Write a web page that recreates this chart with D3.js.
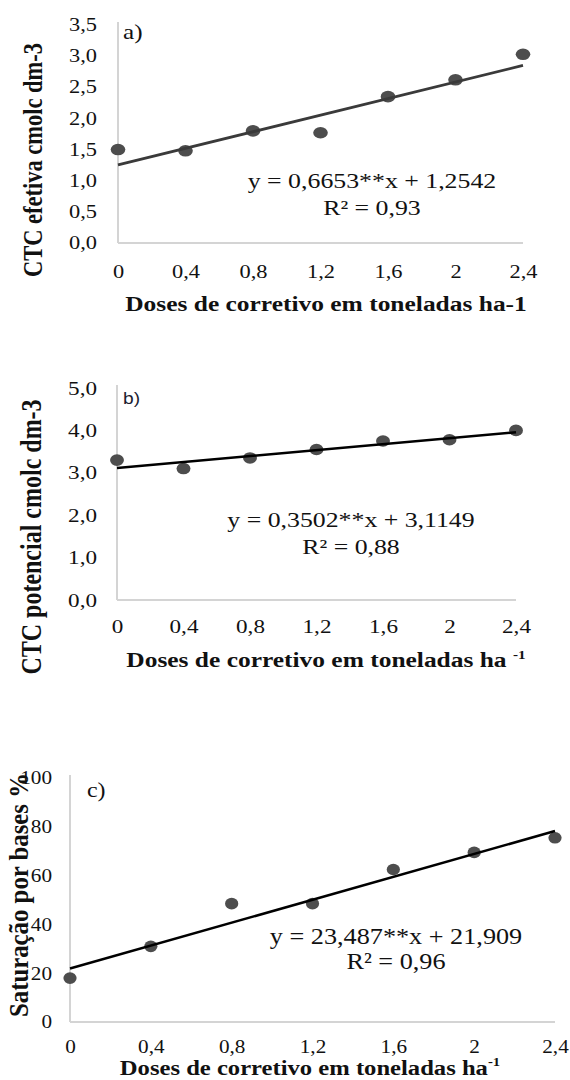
<!DOCTYPE html>
<html>
<head>
<meta charset="utf-8">
<script src="https://cdn.jsdelivr.net/npm/d3@7"></script>
<style>
  html, body { margin: 0; padding: 0; background: #fff; }
  svg { display: block; }
</style>
</head>
<body>
<svg id="chart" width="570" height="1080"></svg>
<script>
// três painéis (a, b, c): pontos + reta de regressão impressa no gráfico
const doses = [0, 0.4, 0.8, 1.2, 1.6, 2, 2.4];
const ctcEfetiva = [1.50, 1.48, 1.80, 1.77, 2.35, 2.62, 3.03];
const ctcPotencial = [3.30, 3.10, 3.35, 3.55, 3.75, 3.78, 4.00];
const saturacaoBases = [18.0, 31.0, 48.5, 48.5, 62.5, 69.5, 75.5];

const ticksA = [0, 0.5, 1, 1.5, 2, 2.5, 3, 3.5];
const ticksB = [0, 1, 2, 3, 4, 5];
const ticksC = [0, 20, 40, 60, 80, 100];

// coeficientes [inclinação, intercepto] das equações mostradas
const coefA = [0.6653, 1.2542];
const coefB = [0.3502, 3.1149];
const coefC = [23.487, 21.909];
const eqA = ["y = 0,6653**x + 1,2542", "R² = 0,93"];
const eqB = ["y = 0,3502**x + 3,1149", "R² = 0,88"];
const eqC = ["y = 23,487**x + 21,909", "R² = 0,96"];

const SERIF = '"Liberation Serif", "Times New Roman", serif';
const SANS = '"Liberation Sans", Arial, sans-serif';
const comma1 = (v) => d3.format(".1f")(v).replace(".", ",");
const xFmt = (v) => String(v).replace(".", ",");

const svg = d3.select("#chart");

const panels = [
  {
    values: ctcEfetiva, coef: coefA, eq: eqA, yTicks: ticksA, yFmt: comma1,
    tag: "a)", tagFont: SERIF, tagSize: 20, tagX: 123, tagY: 39,
    yLabel: "CTC efetiva cmolc dm-3", yLabelSize: 22.5, yLabelX: 32, yLabelY: 160,
    title: "Doses de corretivo em toneladas ha-1", sup: null, titleSize: 20.2, titleX: 326, titleY: 311,
    sx: 1.26, x0: 118, x1: 523, yBot: 243, yTop: 25, axisTop: 22,
    tickSize: 17.8, yTickRight: 97, xTickBase: 278,
    eqSize: 20.5, eqX: 372, eqY: 188, r2Y: 215, lineColor: "#3a3a3a", lineW: 2.8,
  },
  {
    values: ctcPotencial, coef: coefB, eq: eqB, yTicks: ticksB, yFmt: comma1,
    tag: "b)", tagFont: SANS, tagSize: 16, tagX: 123, tagY: 404,
    yLabel: "CTC potencial cmolc dm-3", yLabelSize: 24, yLabelX: 31, yLabelY: 537,
    title: "Doses de corretivo em toneladas ha ", sup: "-1", titleSize: 21.2, titleX: 326, titleY: 667,
    sx: 1.2, x0: 117, x1: 516, yBot: 600, yTop: 388, axisTop: 385,
    tickSize: 19.3, yTickRight: 97, xTickBase: 633,
    eqSize: 21.5, eqX: 351, eqY: 527, r2Y: 554, lineColor: "#000", lineW: 2.5,
  },
  {
    values: saturacaoBases, coef: coefC, eq: eqC, yTicks: ticksC, yFmt: (v) => String(v),
    tag: "c)", tagFont: SERIF, tagSize: 21, tagX: 87, tagY: 797,
    yLabel: "Saturação por bases %", yLabelSize: 24.8, yLabelX: 18, yLabelY: 895,
    title: "Doses de corretivo em toneladas ha", sup: "-1", titleSize: 21.6, titleX: 310, titleY: 1075,
    sx: 1.14, x0: 70, x1: 555, yBot: 1022, yTop: 778, axisTop: 775,
    tickSize: 18.6, yTickRight: 52, xTickBase: 1053,
    eqSize: 23, eqX: 396, eqY: 944, r2Y: 969, lineColor: "#000", lineW: 2.5,
  },
];

// texto esticado na horizontal (a figura original foi redimensionada só em x)
function sText(g, str, x, y, size, sx) {
  return g.append("text")
    .attr("transform", `translate(${x},${y}) scale(${sx},1)`)
    .attr("text-anchor", "middle")
    .attr("font-family", SERIF)
    .attr("font-size", size)
    .attr("fill", "#111")
    .text(str);
}

function drawPanel(p) {
  const g = svg.append("g");
  const x = d3.scaleLinear().domain(d3.extent(doses)).range([p.x0, p.x1]);
  const y = d3.scaleLinear().domain([0, d3.max(p.yTicks)]).range([p.yBot, p.yTop]);

  // eixos em cinza claro, sem marcas
  g.append("line").attr("x1", p.x0).attr("x2", p.x0).attr("y1", p.axisTop).attr("y2", p.yBot)
    .attr("stroke", "#d4d4d4").attr("stroke-width", 2);
  g.append("line").attr("x1", p.x0).attr("x2", x(d3.max(doses))).attr("y1", p.yBot).attr("y2", p.yBot)
    .attr("stroke", "#d4d4d4").attr("stroke-width", 2);

  const ya = g.append("g").attr("transform", `translate(${p.x0},0)`)
    .call(d3.axisLeft(y).tickValues(p.yTicks).tickFormat(p.yFmt).tickSize(0));
  ya.attr("font-family", SERIF).attr("font-size", p.tickSize);
  ya.select(".domain").remove();
  ya.selectAll("text")
    .attr("x", -(p.x0 - p.yTickRight) / p.sx)
    .attr("transform", `scale(${p.sx},1)`)
    .attr("fill", "#111");

  const xa = g.append("g").attr("transform", `translate(0,${p.yBot})`)
    .call(d3.axisBottom(x).tickValues(doses).tickFormat(xFmt).tickSize(0));
  xa.attr("font-family", SERIF).attr("font-size", p.tickSize);
  xa.select(".domain").remove();
  xa.selectAll("text")
    .attr("y", p.xTickBase - p.yBot)
    .attr("dy", null)
    .attr("transform", `scale(${p.sx},1)`)
    .attr("fill", "#111");

  // pontos
  g.selectAll("ellipse").data(p.values).join("ellipse")
    .attr("cx", (d, i) => x(doses[i]))
    .attr("cy", (d) => y(d))
    .attr("rx", 5.8 * p.sx)
    .attr("ry", 5.8)
    .attr("fill", "#4d4d4d");

  // reta ajustada: y = a*x + b
  const fit = d3.extent(doses).map((d) => [x(d), y(p.coef[0] * d + p.coef[1])]);
  g.append("path").attr("d", d3.line()(fit))
    .attr("fill", "none").attr("stroke", p.lineColor).attr("stroke-width", p.lineW);

  sText(g, p.eq[0], p.eqX, p.eqY, p.eqSize, p.sx);
  sText(g, p.eq[1], p.eqX, p.r2Y, p.eqSize, p.sx);

  g.append("text")
    .attr("transform", `translate(${p.tagX},${p.tagY}) scale(${p.sx},1)`)
    .attr("font-family", p.tagFont).attr("font-size", p.tagSize)
    .attr("fill", p.tagFont === SANS ? "#1c1c30" : "#111")
    .text(p.tag);

  // título do eixo x (com expoente quando houver)
  const t = sText(g, p.title, p.titleX, p.titleY, p.titleSize, p.sx).attr("font-weight", "bold");
  if (p.sup) {
    t.append("tspan").attr("dy", -p.titleSize * 0.4).attr("font-size", p.titleSize * 0.6).text(p.sup);
  }

  // título do eixo y, rotacionado
  g.append("text")
    .attr("transform", `translate(${p.yLabelX},${p.yLabelY}) scale(${p.sx},1) rotate(-90)`)
    .attr("text-anchor", "middle")
    .attr("dy", "0.35em")
    .attr("font-family", SERIF).attr("font-weight", "bold")
    .attr("font-size", p.yLabelSize)
    .attr("fill", "#111")
    .text(p.yLabel);
}

panels.forEach(drawPanel);
</script>
</body>
</html>
